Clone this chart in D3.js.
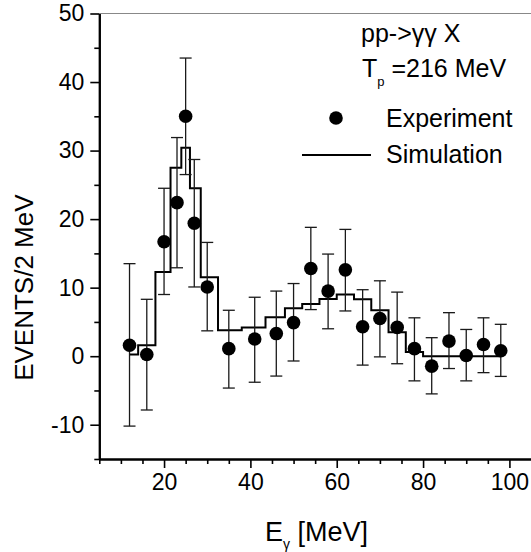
<!DOCTYPE html>
<html><head><meta charset="utf-8">
<script src="https://cdn.jsdelivr.net/npm/d3@7"></script>
<style>body{margin:0;background:#fff}svg{display:block}</style>
</head><body>
<svg id="c" width="531" height="552"></svg>
<script>
// ---- data ----
const energy = [12,16,20,23,25,27,30,35,41,46,50,54,58,62,66,70,74,78,82,86,90,94,98];
const experiment = [1.6,0.25,16.7,22.4,35.0,19.4,10.1,1.1,2.5,3.3,4.9,12.8,9.5,12.6,4.3,5.5,4.2,1.1,-1.45,2.2,0.1,1.7,0.8];
const errHigh = [13.5,8.3,24.5,31.9,43.5,28.7,16.6,6.7,8.6,9.5,10.6,18.8,14.9,18.5,9.7,11.0,9.35,5.6,2.7,6.35,3.9,5.6,4.65];
const errLow = [-10.2,-7.85,9.0,12.9,26.5,10.1,3.7,-4.65,-3.8,-2.9,-0.7,6.8,4.0,6.6,-1.3,-0.1,-1.1,-3.6,-5.5,-1.8,-3.6,-2.4,-2.95];
const simulation = [0.25,1.6,12.3,27.5,30.4,24.5,11.5,3.8,4.2,5.7,7.0,7.6,8.35,9.0,8.3,6.7,3.5,0.6,0,0,0,0,0];
const xMajorTicks = [20,40,60,80,100];
const xMinorTicks = [5,10,15,25,30,35,45,50,55,65,70,75,85,90,95];
const yMajorTicks = [-10,0,10,20,30,40,50];
const yMinorTicks = [-15,-5,5,15,25,35,45];
const legendLabels = ["Experiment","Simulation"];

const svg = d3.select("#c");
const FONT = "Liberation Sans, Arial, sans-serif";
const x = d3.scaleLinear().domain([5,105]).range([99.3,531]);
const y = d3.scaleLinear().domain([-15,50]).range([459,13.5]);
const fmt = d => String(d);

// top frame line
svg.append("line").attr("x1",x(5)).attr("x2",x(105)).attr("y1",y(50)).attr("y2",y(50))
  .attr("stroke","#888").attr("stroke-width",1);

// axes
function styleAxis(g){
  g.selectAll(".domain").attr("stroke","#000").attr("stroke-width",2);
  g.selectAll(".tick line").attr("stroke","#000").attr("stroke-width",1.6);
  g.selectAll("text").attr("font-family",FONT).attr("font-size",23).attr("fill","#000");
}
const gx = svg.append("g").attr("transform",`translate(0,${y(-15)})`)
  .call(d3.axisBottom(x).tickValues(xMajorTicks).tickSize(9).tickSizeOuter(0).tickPadding(6).tickFormat(fmt));
styleAxis(gx);
const gxm = svg.append("g").attr("transform",`translate(0,${y(-15)})`)
  .call(d3.axisBottom(x).tickValues(xMinorTicks).tickSize(5).tickSizeOuter(0).tickFormat(""));
styleAxis(gxm);
const gy = svg.append("g").attr("transform",`translate(${x(5)},0)`)
  .call(d3.axisLeft(y).tickValues(yMajorTicks).tickSize(9).tickSizeOuter(0).tickPadding(6).tickFormat(fmt));
styleAxis(gy);
const gym = svg.append("g").attr("transform",`translate(${x(5)},0)`)
  .call(d3.axisLeft(y).tickValues(yMinorTicks).tickSize(5).tickSizeOuter(0).tickFormat(""));
styleAxis(gym);

// simulation histogram (steps centred on each energy)
const edges = energy.map((e,i)=> i===0 ? e : (energy[i-1]+e)/2);
edges.push(energy[energy.length-1]);
let pts = [];
simulation.forEach((v,i)=>{ pts.push([x(edges[i]),y(v)]); pts.push([x(edges[i+1]),y(v)]); });
svg.append("path").attr("d",d3.line()(pts)).attr("fill","none").attr("stroke","#000").attr("stroke-width",2);

// error bars
const capW = 6;
const eb = svg.append("g").attr("stroke","#1a1a1a").attr("stroke-width",1.3);
energy.forEach((e,i)=>{
  eb.append("line").attr("x1",x(e)).attr("x2",x(e)).attr("y1",y(errHigh[i])).attr("y2",y(errLow[i]));
  eb.append("line").attr("x1",x(e)-capW).attr("x2",x(e)+capW).attr("y1",y(errHigh[i])).attr("y2",y(errHigh[i]));
  eb.append("line").attr("x1",x(e)-capW).attr("x2",x(e)+capW).attr("y1",y(errLow[i])).attr("y2",y(errLow[i]));
});
// points
svg.append("g").selectAll("circle").data(energy).join("circle")
  .attr("cx",d=>x(d)).attr("cy",(d,i)=>y(experiment[i])).attr("r",6.8).attr("fill","#000");

// axis titles
svg.append("text").attr("transform",`translate(33,${y(10)}) rotate(-90)`)
  .attr("text-anchor","middle").attr("font-family",FONT).attr("font-size",26).text("EVENTS/2 MeV");
const xt = svg.append("text").attr("x",265).attr("y",541)
  .attr("font-family",FONT).attr("font-size",27);
xt.append("tspan").text("E");
xt.append("tspan").attr("font-size",14).attr("dy",8).text("γ");
xt.append("tspan").attr("dy",-8).text(" [MeV]");

// annotation + legend
const lg = svg.append("g").attr("font-family",FONT).attr("font-size",25);
lg.append("text").attr("x",361).attr("y",42).text("pp->γγ X");
const tp = lg.append("text").attr("x",362).attr("y",77);
tp.append("tspan").text("T");
tp.append("tspan").attr("font-size",13).attr("dy",9).text("p");
tp.append("tspan").attr("dy",-9).text(" =216 MeV");
lg.append("circle").attr("cx",336).attr("cy",118).attr("r",6.8).attr("fill","#000");
lg.append("text").attr("x",386).attr("y",127).text(legendLabels[0]);
lg.append("line").attr("x1",302).attr("x2",371).attr("y1",155).attr("y2",155).attr("stroke","#000").attr("stroke-width",2);
lg.append("text").attr("x",386).attr("y",163).text(legendLabels[1]);
</script>
</body></html>
